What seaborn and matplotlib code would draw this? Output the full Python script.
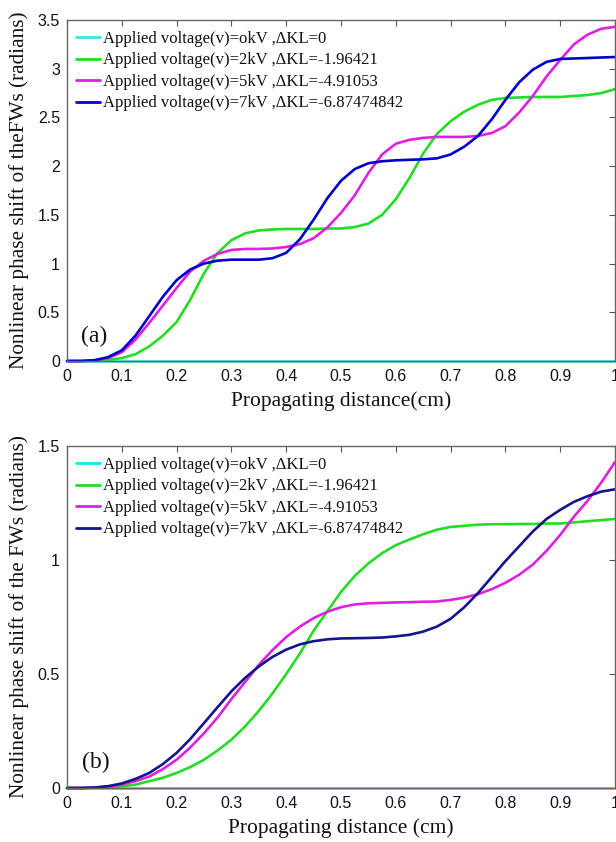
import numpy as np
import pandas as pd
import matplotlib
matplotlib.use("Agg")
import matplotlib.pyplot as plt
import seaborn as sns
from matplotlib.ticker import FuncFormatter

sns.set_theme(style="white")
plt.rcParams['font.family'] = ['Liberation Sans', 'DejaVu Sans']

# ---------------- data ----------------
x_cm = [0.0, 0.025, 0.05, 0.075, 0.1, 0.125, 0.15, 0.175, 0.2, 0.225, 0.25,
        0.275, 0.3, 0.325, 0.35, 0.375, 0.4, 0.425, 0.45, 0.475, 0.5,
        0.525, 0.55, 0.575, 0.6, 0.625, 0.65, 0.675, 0.7, 0.725, 0.75,
        0.775, 0.8, 0.825, 0.85, 0.875, 0.9, 0.925, 0.95, 0.975, 1.0]

series_labels = ["Applied voltage(v)=okV ,\u0394KL=0",
                 "Applied voltage(v)=2kV ,\u0394KL=-1.96421",
                 "Applied voltage(v)=5kV ,\u0394KL=-4.91053",
                 "Applied voltage(v)=7kV ,\u0394KL=-6.87474842"]

# panel (a)
a_0kV = [0.0] * 41
a_2kV = [0.0, 0.0, 0.003, 0.012, 0.03, 0.07, 0.15, 0.26, 0.40, 0.63, 0.90,
         1.11, 1.24, 1.31, 1.34, 1.35, 1.355, 1.355, 1.355, 1.36, 1.36,
         1.375, 1.41, 1.50, 1.66, 1.88, 2.13, 2.33, 2.46, 2.56, 2.63,
         2.68, 2.70, 2.705, 2.71, 2.71, 2.71, 2.72, 2.73, 2.75, 2.79]
a_5kV = [0.0, 0.0, 0.005, 0.03, 0.09, 0.22, 0.39, 0.57, 0.75, 0.92, 1.03,
         1.10, 1.14, 1.15, 1.15, 1.155, 1.17, 1.20, 1.26, 1.37, 1.52,
         1.70, 1.93, 2.12, 2.23, 2.27, 2.29, 2.30, 2.30, 2.30, 2.31,
         2.34, 2.41, 2.55, 2.72, 2.92, 3.09, 3.25, 3.35, 3.41, 3.43]
a_7kV = [0.0, 0.0, 0.008, 0.04, 0.11, 0.26, 0.46, 0.66, 0.83, 0.94, 1.00,
         1.03, 1.04, 1.04, 1.04, 1.055, 1.11, 1.25, 1.45, 1.67, 1.85,
         1.97, 2.03, 2.05, 2.06, 2.065, 2.07, 2.08, 2.12, 2.20, 2.31,
         2.48, 2.68, 2.86, 2.99, 3.07, 3.10, 3.105, 3.11, 3.115, 3.12]

# panel (b)
b_0kV = [0.0] * 41
b_2kV = [0.0, 0.0, 0.0, 0.002, 0.007, 0.015, 0.03, 0.045, 0.066, 0.092, 0.124,
         0.165, 0.212, 0.27, 0.338, 0.415, 0.50, 0.59, 0.69, 0.775, 0.86,
         0.93, 0.985, 1.03, 1.065, 1.09, 1.113, 1.133, 1.145, 1.15, 1.155,
         1.157, 1.157, 1.158, 1.158, 1.16, 1.16, 1.165, 1.17, 1.175, 1.18]
b_5kV = [0.0, 0.0, 0.002, 0.006, 0.015, 0.03, 0.05, 0.083, 0.124, 0.178, 0.24,
         0.31, 0.39, 0.465, 0.54, 0.605, 0.662, 0.708, 0.745, 0.773, 0.793,
         0.805, 0.81, 0.812, 0.814, 0.815, 0.817, 0.818, 0.825, 0.835, 0.85,
         0.872, 0.90, 0.935, 0.98, 1.04, 1.11, 1.19, 1.26, 1.34, 1.43]
b_7kV = [0.0, 0.0, 0.002, 0.008, 0.02, 0.04, 0.066, 0.105, 0.154, 0.215, 0.285,
         0.355, 0.424, 0.483, 0.533, 0.575, 0.607, 0.63, 0.644, 0.652, 0.656,
         0.657, 0.658, 0.66, 0.665, 0.672, 0.686, 0.708, 0.742, 0.793, 0.855,
         0.925, 0.995, 1.06, 1.125, 1.18, 1.22, 1.255, 1.28, 1.30, 1.31]

x_ticks = [0, 0.1, 0.2, 0.3, 0.4, 0.5, 0.6, 0.7, 0.8, 0.9, 1.0]
a_yticks = [0, 0.5, 1, 1.5, 2, 2.5, 3, 3.5]
b_yticks = [0, 0.5, 1, 1.5]

colors_a = ["#3ee0e8", "#22dd22", "#e020e0", "#0000cc"]
colors_b = ["#10eaf0", "#22dd22", "#dd22dd", "#14148c"]


def long_frame(series):
    rows = []
    for lab, vals in zip(series_labels, series):
        for xv, yv in zip(x_cm, vals):
            rows.append({"x": xv, "y": yv, "series": lab})
    return pd.DataFrame(rows)


df_a = long_frame([a_0kV, a_2kV, a_5kV, a_7kV])
df_b = long_frame([b_0kV, b_2kV, b_5kV, b_7kV])

fig = plt.figure(figsize=(6.16, 8.42), dpi=100)
ax_a = fig.add_axes([67 / 616, 1 - 361 / 842, 548 / 616, 341 / 842])
ax_b = fig.add_axes([67 / 616, 1 - 788 / 842, 548 / 616, 342 / 842])

serif = ['Liberation Serif', 'DejaVu Serif']
fmt = FuncFormatter(lambda v, p: ("%g" % round(v, 3)))


def style(ax, df, colors, yticks, ylim, ylabel, xlabel, tag, tag_xy):
    sns.lineplot(data=df, x="x", y="y", hue="series", hue_order=series_labels,
                 palette=dict(zip(series_labels, colors)), estimator=None,
                 sort=False, linewidth=1.9, ax=ax)
    for ln in ax.get_lines():
        ln.set_clip_on(False)
    ax.set_xlim(0, 1)
    ax.set_ylim(*ylim)
    ax.set_xticks(x_ticks)
    ax.set_yticks(yticks)
    ax.xaxis.set_major_formatter(fmt)
    ax.yaxis.set_major_formatter(fmt)
    ax.tick_params(direction="in", length=4, width=0.8, color="#555555",
                   top=True, right=True, labelsize=11.5, labelcolor="#111111")
    ax.tick_params(axis="x", pad=6)
    ax.tick_params(axis="y", pad=5)
    for s in ax.spines.values():
        s.set_color("#666666")
        s.set_linewidth(1.0)
        s.set_visible(True)
    ax.set_xlabel(xlabel, family=serif, fontsize=15.5, color="#111111", labelpad=5)
    ax.set_ylabel(ylabel, family=serif, fontsize=15.3, color="#111111", labelpad=6)
    leg = ax.legend(loc="upper left", bbox_to_anchor=(0.0164, 0.968), borderaxespad=0,
                    borderpad=0, frameon=False, prop={"family": serif, "size": 12},
                    handlelength=1.45, handletextpad=0.15, labelspacing=0.33)
    for t in leg.get_texts():
        t.set_color("#111111")
    for h in leg.get_lines():
        h.set_linewidth(2.0)
    ax.text(tag_xy[0], tag_xy[1], tag, family=serif, fontsize=17,
            ha="center", va="center", color="#111111")
    ax.grid(False)


style(ax_a, df_a, colors_a, a_yticks, (0, 3.5),
      "Nonlinear phase shift of theFWs (radians)", "Propagating distance(cm)",
      "(a)", (0.05, 0.25))
style(ax_b, df_b, colors_b, b_yticks, (0, 1.5),
      "Nonlinear phase shift of the FWs (radians)", "Propagating distance (cm)",
      "(b)", (0.053, 0.114))

fig.savefig("out.png", dpi=100)
